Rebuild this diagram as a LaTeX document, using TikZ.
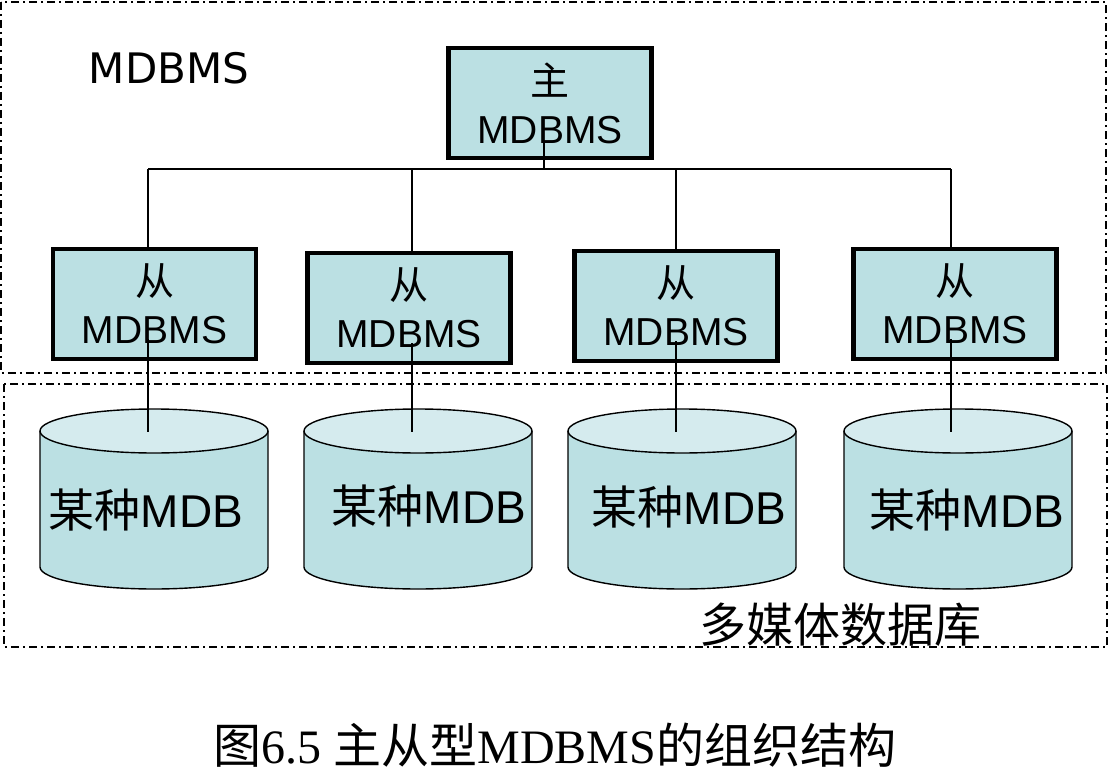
\documentclass[tikz,border=0pt]{standalone}
\usepackage{fontspec}
\setmainfont{Liberation Serif}
\setsansfont{Liberation Sans}
\newfontfamily\cjk{Noto Sans CJK SC}
\newfontfamily\dejavu{DejaVu Sans}
\definecolor{boxfill}{RGB}{187,224,227}
\definecolor{cyltop}{RGB}{213,235,238}
\begin{document}
\begin{tikzpicture}[
        x=1pt, y=-1pt,
        dbms/.style={
            draw,
            line width=4.5pt,
            fill=boxfill,
            align=center,
            inner sep=0pt,
            minimum width=203pt,
            minimum height=110pt,
            font=\sffamily\fontsize{39}{48}\selectfont
        },
        frame/.style={line width=1.8pt, dash pattern=on 8pt off 4pt on 2pt off 4pt},
        link/.style={line width=1.8pt},
        cylline/.style={line width=1.4pt},
        dbtext/.style={inner sep=0pt, font=\sffamily\fontsize{46}{50}\selectfont}
    ]
        \useasboundingbox (0,0) rectangle (1110,781);

        % the two regions
        \draw[frame] (1,2) rectangle (1106,373);
        \draw[frame] (4,384) rectangle (1107,647);

        \node[inner sep=0pt, font=\dejavu\fontsize{42}{48}\selectfont] (title) at (169,68) {MDBMS};

        % master and slaves
        \node[dbms] (main) at (550,103) {{\cjk 主}\\MDBMS};
        \node[dbms] (s1) at (154.5,304) {{\cjk 从}\\MDBMS};
        \node[dbms] (s2) at (409,308) {{\cjk 从}\\MDBMS};
        \node[dbms] (s3) at (676,306) {{\cjk 从}\\MDBMS};
        \node[dbms] (s4) at (955,304) {{\cjk 从}\\MDBMS};

        % databases
        \foreach \cx/\tx/\ty/\n in {154/146/510/1, 418/429/506/2, 682/689/507/3, 958/967/510/4} {
            \filldraw[cylline, fill=boxfill] (\cx-114,431) -- (\cx-114,567)
                arc[start angle=180, end angle=360, x radius=114pt, y radius=22pt] -- (\cx+114,431);
            \filldraw[cylline, fill=cyltop] (\cx,431) ellipse[x radius=114pt, y radius=22pt];
            \node[dbtext] (db\n) at (\tx,\ty) {{\cjk 某种}MDB};
        }

        % bus
        \coordinate (hub) at (544,169);
        \foreach \x/\n in {148/1, 412/2, 676/3, 951/4} {
            \coordinate (bus\n) at (\x,169);
            \coordinate (top\n) at (\x,432);
        }
        \draw[link] (bus1) -- (bus4);
        \draw[link] (hub |- main.south) ++(0,-18) -- (hub);
        \foreach \n in {1,2,3,4} {
            \draw[link] (bus\n) -- (bus\n |- s\n.north);
            \draw[link] (bus\n |- s\n.south) ++(0,-22) -- (top\n);
        }

        \node[inner sep=0pt, font=\cjk\fontsize{47}{50}\selectfont] (mmdb) at (840,625) {多媒体数据库};

        \node[inner sep=0pt, font=\fontsize{48}{52}\selectfont] (caption) at (555,745)
            {{\cjk 图}6.5 {\cjk 主从型}MDBMS{\cjk 的组织结构}};
    \end{tikzpicture}
\end{document}
